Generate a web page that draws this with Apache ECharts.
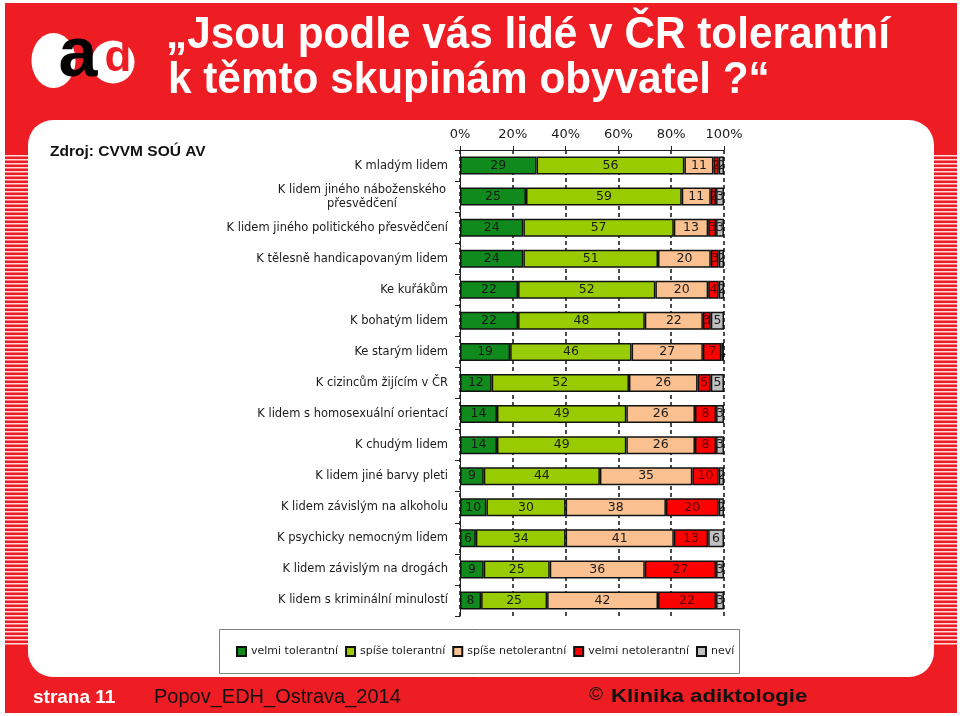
<!DOCTYPE html>
<html><head><meta charset="utf-8">
<script src="https://cdn.jsdelivr.net/npm/echarts@6/dist/echarts.min.js"></script>
<style>html,body{margin:0;padding:0;background:#fff}#c{width:960px;height:716px}</style>
</head><body><div id="c"></div>
<script>
// ---- data ----
const categories = [
  'K mladým lidem',
  'K lidem jiného náboženského\npřesvědčení',
  'K lidem jiného politického přesvědčení',
  'K tělesně handicapovaným lidem',
  'Ke kuřákům',
  'K bohatým lidem',
  'Ke starým lidem',
  'K cizincům žijícím v ČR',
  'K lidem s homosexuální orientací',
  'K chudým lidem',
  'K lidem jiné barvy pleti',
  'K lidem závislým na alkoholu',
  'K psychicky nemocným lidem',
  'K lidem závislým na drogách',
  'K lidem s kriminální minulostí'
];
const seriesNames = ['velmi tolerantní', 'spíše tolerantní', 'spíše netolerantní', 'velmi netolerantní', 'neví'];
const velmiTolerantni  = [29, 25, 24, 24, 22, 22, 19, 12, 14, 14, 9, 10, 6, 9, 8];
const spiseTolerantni  = [56, 59, 57, 51, 52, 48, 46, 52, 49, 49, 44, 30, 34, 25, 25];
const spiseNetolerantni= [11, 11, 13, 20, 20, 22, 27, 26, 26, 26, 35, 38, 41, 36, 42];
const velmiNetolerantni= [2, 2, 3, 3, 4, 3, 7, 5, 8, 8, 10, 20, 13, 27, 22];
const nevi             = [2, 3, 3, 2, 2, 5, 1, 5, 3, 3, 2, 2, 6, 3, 3];
const tickValues = [0, 20, 40, 60, 80, 100];

// ---- styles ----
const seriesData = [velmiTolerantni, spiseTolerantni, spiseNetolerantni, velmiNetolerantni, nevi];
const colors = ['#108a1c', '#99cc00', '#fac090', '#ff0000', '#c0c0c0'];
const labelColors = ['#1a1a1a', '#1a1a1a', '#1a1a1a', '#5a0000', '#1a1a1a'];

const RED = '#ee1d24';
const graphics = [];
graphics.push({type: 'rect', shape: {x: 5, y: 3, width: 952, height: 710}, style: {fill: RED}, silent: true});
// side stripes
for (let y = 155; y < 645; y += 4) {
  graphics.push({type: 'rect', shape: {x: 5, y: y, width: 24, height: 1.5}, style: {fill: '#ffdcdc'}, silent: true});
  graphics.push({type: 'rect', shape: {x: 933, y: y, width: 24, height: 1.5}, style: {fill: '#ffdcdc'}, silent: true});
}
graphics.push({type: 'rect', shape: {x: 28, y: 120, width: 906, height: 557, r: 25}, style: {fill: '#fff'}, silent: true});
// logo
graphics.push({type: 'ellipse', shape: {cx: 53.5, cy: 60.5, rx: 22, ry: 27.5}, style: {fill: '#fff'}, silent: true});
graphics.push({type: 'circle', shape: {cx: 113, cy: 62, r: 21.5}, style: {fill: '#fff'}, silent: true});
graphics.push({type: 'text', x: 78, y: 57, style: {text: 'a', fill: '#000', font: 'bold 70px "Liberation Sans"', align: 'center', verticalAlign: 'middle'}, silent: true});
graphics.push({type: 'text', x: 118, y: 59, style: {text: 'd', fill: RED, font: 'bold 44px "Liberation Sans"', align: 'center', verticalAlign: 'middle'}, silent: true});
// title
graphics.push({type: 'text', x: 166, y: 36, scaleX: 0.94, style: {text: '„Jsou podle vás lidé v ČR tolerantní', fill: '#fff', font: 'bold 45px "Liberation Sans"', align: 'left', verticalAlign: 'middle'}, silent: true});
graphics.push({type: 'text', x: 168, y: 81, scaleX: 0.94, style: {text: 'k těmto skupinám obyvatel ?“', fill: '#fff', font: 'bold 45px "Liberation Sans"', align: 'left', verticalAlign: 'middle'}, silent: true});
// source
graphics.push({type: 'text', x: 50, y: 152, style: {text: 'Zdroj: CVVM SOÚ AV', fill: '#111', font: 'bold 15.5px "Liberation Sans"', align: 'left', verticalAlign: 'middle'}, silent: true});
// legend box
graphics.push({type: 'rect', shape: {x: 219.5, y: 629.5, width: 520, height: 44}, style: {fill: '#fff', stroke: '#808080', lineWidth: 1}, silent: true});
// footer
graphics.push({type: 'text', x: 33, y: 698, style: {text: 'strana 11', fill: '#fff', font: 'bold 19px "Liberation Sans"', align: 'left', verticalAlign: 'middle'}, silent: true});
graphics.push({type: 'text', x: 154, y: 697, style: {text: 'Popov_EDH_Ostrava_2014', fill: '#111', font: '20px "Liberation Sans"', align: 'left', verticalAlign: 'middle'}, silent: true});
graphics.push({type: 'text', x: 589, y: 695, style: {text: '©', fill: '#111', font: '19px "Liberation Sans"', align: 'left', verticalAlign: 'middle'}, silent: true});
graphics.push({type: 'text', x: 611, y: 697, scaleX: 1.17, style: {text: 'Klinika adiktologie', fill: '#111', font: 'bold 19px "Liberation Sans"', align: 'left', verticalAlign: 'middle'}, silent: true});

const chart = echarts.init(document.getElementById('c'), null, {renderer: 'canvas'});
chart.setOption({
  backgroundColor: '#fff',
  animation: false,
  graphic: graphics,
  grid: {left: 460, right: 236, top: 150, bottom: 100, containLabel: false},
  legend: {
    data: seriesNames,
    left: 236, top: 646, padding: 0,
    icon: 'rect', itemWidth: 9, itemHeight: 9, itemGap: 7,
    textStyle: {fontFamily: 'DejaVu Sans', fontSize: 11, color: '#222'}
  },
  xAxis: {
    type: 'value', position: 'top', min: 0, max: 100, interval: 20,
    axisLine: {show: true, lineStyle: {color: '#222', width: 1}},
    axisTick: {show: true, length: 4, lineStyle: {color: '#222'}},
    axisLabel: {
      margin: 9, color: '#1a1a1a', fontFamily: 'DejaVu Sans', fontSize: 13,
      formatter: v => tickValues.includes(v) ? v + '%' : ''
    },
    splitLine: {show: true, lineStyle: {color: '#111', width: 1.5, type: [4, 3]}}
  },
  yAxis: {
    type: 'category', inverse: true, data: categories,
    axisLine: {show: true, lineStyle: {color: '#222', width: 1}},
    axisTick: {show: true, length: 5, lineStyle: {color: '#222'}},
    axisLabel: {
      margin: 12, color: '#1a1a1a', fontFamily: 'DejaVu Sans', fontSize: 11.5, lineHeight: 14,
      formatter: function (v) {
        if (v.indexOf('\n') >= 0) {
          return v.split('\n').map(s => '{c|' + s + '}').join('\n');
        }
        return v;
      },
      rich: {c: {width: 172, align: 'center', fontFamily: 'DejaVu Sans', fontSize: 11.5, lineHeight: 14, color: '#1a1a1a'}}
    },
    splitLine: {show: false}
  },
  series: seriesNames.map((name, i) => ({
    name: name, type: 'bar', stack: 'total', barWidth: 18,
    data: seriesData[i],
    itemStyle: {color: colors[i], borderColor: '#111', borderWidth: 1.5},
    label: {
      show: true, position: 'inside', color: labelColors[i],
      fontFamily: 'DejaVu Sans', fontSize: 12.5, textBorderWidth: 0
    }
  }))
});
</script>
</body></html>
